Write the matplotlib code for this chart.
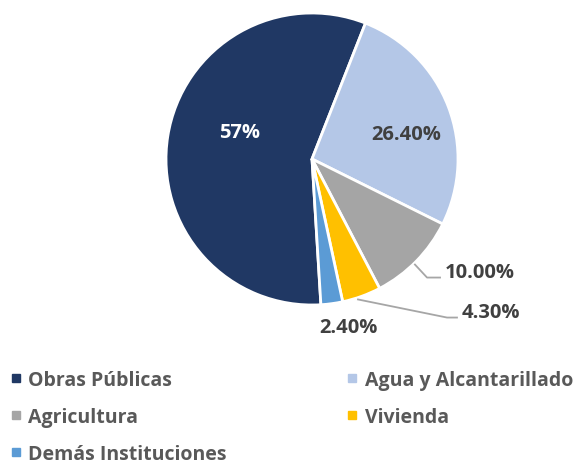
import matplotlib.pyplot as plt
from matplotlib.lines import Line2D

plt.rcParams['font.family'] = ['Open Sans', 'DejaVu Sans']
plt.rcParams['font.weight'] = 'bold'

categories = ['Obras Públicas', 'Agua y Alcantarillado', 'Agricultura',
              'Vivienda', 'Demás Instituciones']
shares = [57, 26.4, 10.0, 4.3, 2.4]
labels = ['57%', '26.40%', '10.00%', '4.30%', '2.40%']
colors = ['#203864', '#B4C7E7', '#A5A5A5', '#FFC000', '#5B9BD5']

fig = plt.figure(figsize=(5.77, 4.64), dpi=100)
ax = fig.add_axes([166 / 577, 1 - 306 / 464, 292 / 577, 292 / 464])

wedges, _ = ax.pie(shares, colors=colors, startangle=-86.5, counterclock=False,
                   radius=1.0,
                   wedgeprops=dict(edgecolor='white', linewidth=2))
ax.set_xlim(-1, 1)
ax.set_ylim(-1, 1)
ax.set_aspect('equal')
ax.axis('off')

# label placement (data coords of the pie axes)
label_pos = [(-0.497, 0.182), (0.647, 0.168), (0.911, -0.777),
             (1.027, -1.045), (0.048, -1.154)]
label_ha = ['center', 'center', 'left', 'left', 'left']
label_col = ['white', '#404040', '#404040', '#404040', '#404040']
for txt, pos, ha, c in zip(labels, label_pos, label_ha, label_col):
    ax.text(pos[0], pos[1], txt, ha=ha, va='center', fontsize=14.5,
            fontweight='bold', color=c, clip_on=False)

# leader lines
ax.plot([0.705, 0.788, 0.877], [-0.723, -0.812, -0.812], color='#A6A6A6',
        lw=1.3, clip_on=False)
ax.plot([0.315, 0.925, 0.993], [-0.962, -1.086, -1.086], color='#A6A6A6',
        lw=1.3, clip_on=False)

# legend: column-major order so rows read as in the reference
order = [0, 2, 4, 1, 3]
handles = [Line2D([], [], marker='s', linestyle='none', markersize=6.2,
                  color=colors[i]) for i in order]
leg = fig.legend(handles, [categories[i] for i in order], ncol=2,
                 loc='upper left', bbox_to_anchor=(10 / 577, 1 - 371 / 464),
                 frameon=False, fontsize=14, handlelength=0.6,
                 handletextpad=0.35, columnspacing=6.15, labelspacing=0.88,
                 borderaxespad=0, borderpad=0)
for t in leg.get_texts():
    t.set_color('#595959')
    t.set_fontweight('bold')

fig.savefig('out.png', dpi=100)
